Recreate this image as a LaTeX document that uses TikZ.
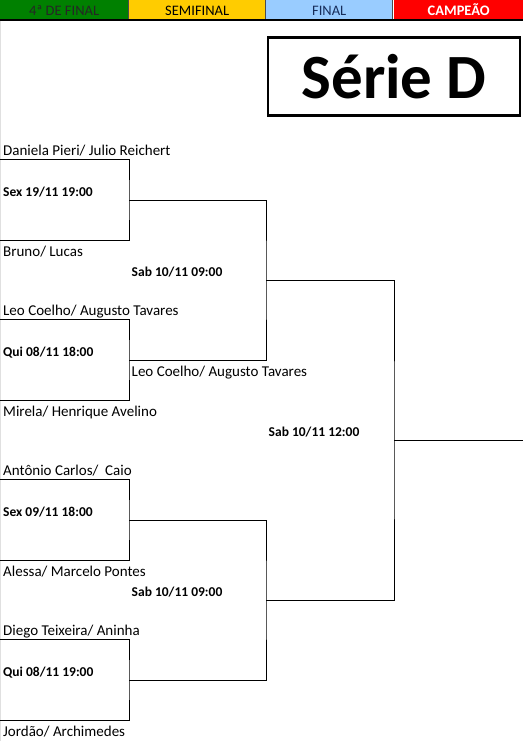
\documentclass[tikz,border=0pt]{standalone}
\usepackage{fontspec}
\setmainfont{Carlito}
\definecolor{cverde}{RGB}{0,128,0}
\definecolor{camarelo}{RGB}{255,204,0}
\definecolor{cazul}{RGB}{153,204,255}
\definecolor{cvermelho}{RGB}{255,0,0}
\definecolor{cnavy}{RGB}{23,45,90}

\begin{document}
\begin{tikzpicture}[x=1pt, y=-1pt,
  fase/.style={anchor=north west, minimum height=19.5pt, inner sep=0pt,
               text height=12pt, text depth=0pt,
               font=\fontsize{14.5}{16}\selectfont},
  titulo/.style={draw, line width=2.2pt, anchor=north west, minimum width=252pt,
                 minimum height=78pt, font=\fontsize{63}{70}\bfseries\selectfont},
  dupla/.style={anchor=base west, inner sep=0pt, font=\fontsize{15}{17}\selectfont},
  data/.style={anchor=base west, inner sep=0pt, font=\fontsize{13.5}{16}\bfseries\selectfont},
  chave/.style={line width=1pt, black},
]
\useasboundingbox (0,0) rectangle (523,741);

% cabecalho
\node[fase, fill=cverde, minimum width=128pt, text=black!85] (f4) at (0,0) {4ª DE FINAL};
\node[fase, fill=camarelo, minimum width=136pt] (fsemi) at (129,0) {SEMIFINAL};
\node[fase, fill=cazul, minimum width=126pt, text=cnavy] (ffinal) at (266,0) {FINAL};
\node[fase, fill=cvermelho, minimum width=129pt, text=white,
      font=\fontsize{14.5}{16}\bfseries\selectfont] (fcamp) at (394,0) {CAMPEÃO};
\draw[black!70, line width=0.8pt] (f4.north east) -- (f4.south east)
  (fsemi.north east) -- (fsemi.south east) (ffinal.north east) -- (ffinal.south east);
\draw[line width=1.6pt] (f4.south west) -- (fcamp.south east);
\draw[black!12, line width=0.8pt] (0.4,21) -- (0.4,741);

% titulo
\node[titulo] (serie) at (267,36.5) {Série D};

% quartas de final
\coordinate (j1t) at (0,159);  \coordinate (j1r) at (129,200); \coordinate (j1b) at (0,240);
\coordinate (j2t) at (0,319);  \coordinate (j2r) at (129,360); \coordinate (j2b) at (0,400);
\coordinate (j3t) at (0,479);  \coordinate (j3r) at (129,520); \coordinate (j3b) at (0,560);
\coordinate (j4t) at (0,639);  \coordinate (j4r) at (129,680); \coordinate (j4b) at (0,720);

\node[dupla] (d11) at (3,155) {Daniela Pieri/ Julio Reichert};
\node[data]  (h1)  at (3,196.5) {Sex 19/11 19:00};
\node[dupla] (d12) at (3,256.5) {Bruno/ Lucas};

\node[dupla] (d21) at (3,315) {Leo Coelho/ Augusto Tavares};
\node[data]  (h2)  at (3,356.5) {Qui 08/11 18:00};
\node[dupla] (d22) at (3,416.5) {Mirela/ Henrique Avelino};

\node[dupla] (d31) at (3,475) {Antônio Carlos/\ \ Caio};
\node[data]  (h3)  at (3,516.5) {Sex 09/11 18:00};
\node[dupla] (d32) at (3,576.5) {Alessa/ Marcelo Pontes};

\node[dupla] (d41) at (3,635) {Diego Teixeira/ Aninha};
\node[data]  (h4)  at (3,676.5) {Qui 08/11 19:00};
\node[dupla] (d42) at (3,736.5) {Jordão/ Archimedes};

\draw[chave] (j1t) -| (j1r) |- (j1b);
\draw[chave] (j2t) -| (j2r) |- (j2b);
\draw[chave] (j3t) -| (j3r) |- (j3b);
\draw[chave] (j4t) -| (j4r) |- (j4b);

% semifinal
\coordinate (s1) at (266,280);
\coordinate (s2) at (266,600);
\node[data]  (hs1) at (131.5,276.5) {Sab 10/11 09:00};
\node[dupla] (vs1) at (131.5,376.5) {Leo Coelho/ Augusto Tavares};
\node[data]  (hs2) at (131.5,596.5) {Sab 10/11 09:00};
\draw[chave] (j1r) -| (s1) |- (j2r);
\draw[chave] (j3r) -| (s2) |- (j4r);

% final
\coordinate (fin) at (394,440);
\coordinate (camp) at (523,440);
\node[data] (hf) at (268.5,436.5) {Sab 10/11 12:00};
\draw[chave] (s1) -| (fin) |- (s2);
\draw[chave] (fin) -- (camp);

\end{tikzpicture}
\end{document}
